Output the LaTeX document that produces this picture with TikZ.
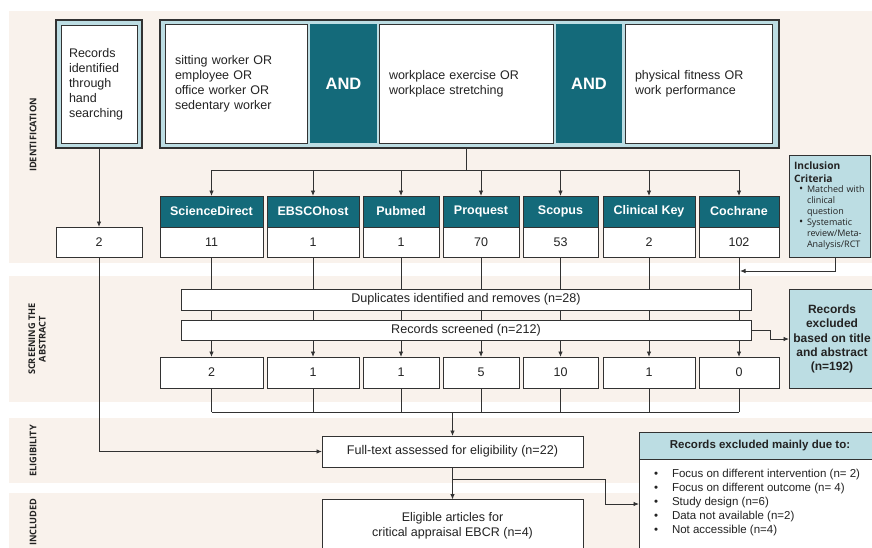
\documentclass[tikz,border=0pt]{standalone}
\usepackage{fontspec}
\setmainfont{Liberation Sans}
\newfontfamily\osans{Open Sans}
\usetikzlibrary{arrows.meta}
\definecolor{tealc}{RGB}{20,106,122}
\definecolor{lblue}{RGB}{188,221,227}
\definecolor{beige}{RGB}{249,242,236}
\definecolor{lnc}{RGB}{50,50,50}
\definecolor{txt}{RGB}{35,35,35}
\newcommand{\incbul}{\hspace*{5pt}\makebox[8pt][l]{\fontsize{11}{11}\selectfont\textbullet}}
\begin{document}
\begin{tikzpicture}[x=1pt,y=-1pt,
 every node/.style={inner sep=0pt,outer sep=0pt,text=txt},
 lnk/.style={draw=lnc,line width=0.9pt},
 arr/.style={lnk,-{Latex[length=5.5pt,width=4.5pt]}},
 wbox/.style={draw=lnc,line width=0.9pt,fill=white,font=\fontsize{12.5}{15}\selectfont,align=center},
 dbhead/.style={draw=lnc,line width=0.9pt,fill=tealc,text=white,font=\bfseries\fontsize{12.5}{15}\selectfont},
 frame/.style={draw=lnc,line width=1.6pt,fill=lblue},
 panel/.style={draw=lnc,line width=0.8pt,fill=white,font=\fontsize{12.5}{15}\selectfont,align=left,inner xsep=10pt,minimum height=119pt},
 andbox/.style={fill=tealc,text=white,font=\bfseries\fontsize{16.5}{20}\selectfont,minimum height=119pt},
 stage/.style={rotate=90,font=\osans\bfseries\fontsize{9.2}{10.5}\selectfont,align=center},
 bluebox/.style={draw=lnc,line width=0.9pt,fill=lblue}
]
\useasboundingbox (0,0) rectangle (872,547);
\clip (0,0) rectangle (872,547);
% bands
\fill[beige] (9,11) rectangle (875,263);
\fill[beige] (9,276) rectangle (875,402);
\fill[beige] (9,418) rectangle (875,483);
\fill[beige] (9,493) rectangle (875,550);
% stage labels
\node[stage] (lid) at (33,135) {IDENTIFICATION};
\node[stage] (lsc) at (37,339) {SCREENING THE\\ABSTRACT};
\node[stage] (lel) at (33,451) {ELIGIBILITY};
\node[stage] (lin) at (33,522) {INCLUDED};
% hand searching
\node[frame,minimum width=86pt,minimum height=128pt] (hand) at (99,84) {};
\node[wbox,minimum width=76pt,minimum height=118pt,text width=60pt,inner xsep=8pt,align=left] (handin) at (99,84) {Records\\identified\\through\\hand\\searching};
% search string
\node[frame,minimum width=619pt,minimum height=128pt] (frm) at (469.5,84) {};
\node[panel,text width=122pt] (p1) at (236,83.5) {sitting worker OR\\employee OR\\office worker OR\\sedentary worker};
\node[andbox,minimum width=67pt] (a2) at (343.5,83.5) {AND};
\node[panel,text width=154pt] (p3) at (466,83.5) {workplace exercise OR\\workplace stretching};
\node[andbox,minimum width=66pt] (a4) at (589,83.5) {AND};
\node[panel,text width=127pt] (p5) at (698.5,83.5) {physical fitness OR\\work performance};
% databases
\foreach \n/\lab/\cx/\w/\a/\b in {sd/ScienceDirect/211.5/103/11/2, eb/EBSCOhost/313/92/1/1, pm/Pubmed/401/76/1/1, pq/Proquest/481/76/70/5, sc/Scopus/560.5/75/53/10, ck/Clinical Key/649/92/2/1, co/Cochrane/739/80/102/0}{
  \node[dbhead,minimum width=\w pt,minimum height=31pt] (\n-h) at (\cx,211.5) {\lab};
  \node[wbox,minimum width=\w pt,minimum height=30pt] (\n-n) at (\cx,242) {\a};
  \node[wbox,minimum width=\w pt,minimum height=31pt] (\n-s) at (\cx,372.5) {\b};
}
\node[wbox,minimum width=86pt,minimum height=30pt] (hand-n) at (99,242) {2};
% inclusion criteria
\node[bluebox,minimum width=81pt,minimum height=102pt,text width=71pt,inner xsep=5pt,align=left,font=\osans\fontsize{9}{11}\selectfont] (inc) at (829.5,206)
 {{\bfseries\fontsize{10.2}{13}\selectfont Inclusion}\\[1.5pt]
  {\bfseries\fontsize{10.2}{13}\selectfont Criteria}\\[-0.5pt]
  \incbul Matched with\\
  \hspace*{13pt}clinical\\
  \hspace*{13pt}question\\
  \incbul Systematic\\
  \hspace*{13pt}review/Meta-\\
  \hspace*{13pt}Analysis/RCT};
% top connectors
\coordinate (bus1) at (466,170);
\draw[lnk] (p3.south |- frm.south) -- (bus1);
\draw[lnk] (sd-h.north |- bus1) -- (co-h.north |- bus1);
\draw[arr] (hand.south) -- (hand-n.north);
\foreach \n in {sd,eb,pm,pq,sc,ck,co}{
  \draw[arr] (\n-h.north |- bus1) -- (\n-h.north);
  \draw[arr] (\n-n.south) -- (\n-s.north);
}
\coordinate (incj) at (740,271);
\draw[arr] ([xshift=5.5pt]inc.south) |- (incj);
% screening boxes
\node[wbox,minimum width=570pt,minimum height=21pt,font=\fontsize{12.6}{14}\selectfont] (dup) at (466,299.5) {Duplicates identified and removes (n=28)};
\node[wbox,minimum width=570pt,minimum height=20pt,font=\fontsize{12.6}{14}\selectfont] (scr) at (466,330) {Records screened (n=212)};
\node[bluebox,minimum width=92pt,minimum height=99pt] (rex) at (835,339) {};
\node[align=center,font=\bfseries\fontsize{12}{14.3}\selectfont] (rext) at (832,339) {Records\\excluded\\based on title\\and abstract\\(n=192)};
\draw[arr] (scr.east) -- ++(19,0) |- (rex.west);
% bottom bus
\coordinate (bus2) at (453,412);
\foreach \n in {sd,eb,pm,pq,sc,ck,co}{
  \draw[lnk] (\n-s.south) -- (\n-s.south |- bus2);
}
\draw[lnk] (sd-s.south |- bus2) -- (co-s.south |- bus2);
% eligibility
\node[wbox,minimum width=261pt,minimum height=31pt,font=\fontsize{12.6}{14}\selectfont] (ft) at (452.5,451.5) {Full-text assessed for eligibility (n=22)};
\draw[arr] (ft.north |- bus2) -- (ft.north);
\draw[arr] (hand-n.south) |- (ft.west);
% included
\node[wbox,minimum width=261pt,minimum height=52pt] (el) at (452.5,525.5) {Eligible articles for\\critical appraisal EBCR (n=4)};
\draw[arr] (ft.south) -- (el.north);
% exclusion box
\node[bluebox,minimum width=242pt,minimum height=27pt,font=\bfseries\fontsize{11.5}{14}\selectfont] (exh) at (760,445.5) {Records excluded mainly due to:};
\node[wbox,minimum width=242pt,minimum height=90pt] (exb) at (760,504) {};
\node[anchor=west,align=left,font=\fontsize{11.5}{14}\selectfont] (exl) at (654,503)
 {\makebox[18pt][l]{\textbullet}Focus on different intervention (n= 2)\\
  \makebox[18pt][l]{\textbullet}Focus on different outcome (n= 4)\\
  \makebox[18pt][l]{\textbullet}Study design (n=6)\\
  \makebox[18pt][l]{\textbullet}Data not available (n=2)\\
  \makebox[18pt][l]{\textbullet}Not accessible (n=4)};
\coordinate (br) at (452.5,479);
\draw[arr] (br) -- ++(152.5,0) |- (exb.west);
\end{tikzpicture}
\end{document}
